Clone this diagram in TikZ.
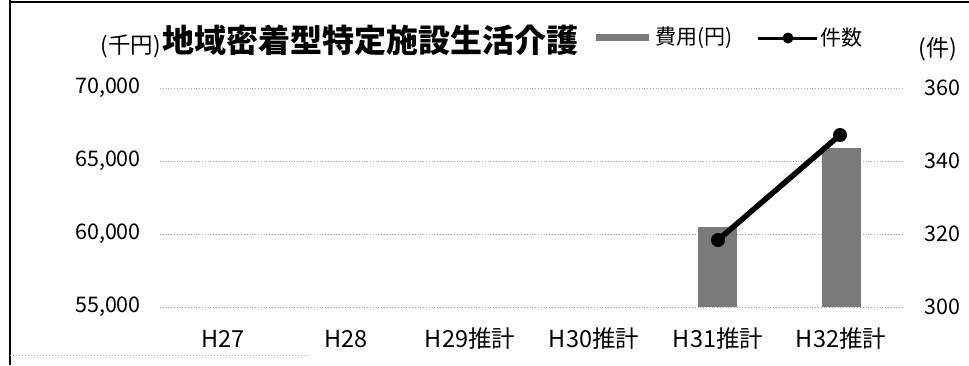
\documentclass[tikz,border=0pt]{standalone}
\usepackage{fontspec}
\setmainfont{Noto Sans CJK JP}
\begin{document}
\begin{tikzpicture}[x=1pt,y=-1pt,
  grid/.style={gray!70, dotted, line width=0.8pt},
  num/.style={font=\fontsize{21.5}{23}\selectfont, inner sep=0pt},
  cat/.style={font=\fontsize{23.5}{25}\selectfont, inner sep=0pt},
  lg/.style={font=\fontsize{21}{23}\selectfont, inner sep=0pt},
  bar/.style={fill=black!52, draw=none, inner sep=0pt},
  mk/.style={circle, fill=black, inner sep=0pt, minimum size=14pt},
  ]
\useasboundingbox (0,0) rectangle (969,365);
% frame
\draw[line width=2pt] (10,0) -- (10,365);
\draw[line width=1.8pt] (10,2) -- (969,2);
\draw[gray!60, dotted, line width=1pt] (10,355) -- (310,355);
% grid
\foreach \y in {88,161,234,307} \draw[grid] (160,\y) -- (903,\y);
% left axis
\node[num, anchor=east] (l70) at (141,88) {70,000};
\node[num, anchor=east] (l65) at (141,161) {65,000};
\node[num, anchor=east] (l60) at (141,234) {60,000};
\node[num, anchor=east] (l55) at (141,307) {55,000};
% right axis
\node[num, anchor=west] (r360) at (924,88) {360};
\node[num, anchor=west] (r340) at (924,161) {340};
\node[num, anchor=west] (r320) at (924,234) {320};
\node[num, anchor=west] (r300) at (924,307) {300};
% categories
\node[cat] (c27) at (223,339) {H27};
\node[cat] (c28) at (346,339) {H28};
\node[cat] (c29) at (470,339) {H29推計};
\node[cat] (c30) at (594,339) {H30推計};
\node[cat] (c31) at (718,339) {H31推計};
\node[cat] (c32) at (841,339) {H32推計};
% bars
\node[bar, anchor=south, minimum width=39pt, minimum height=80pt] (b31) at (717.5,307) {};
\node[bar, anchor=south, minimum width=39pt, minimum height=159pt] (b32) at (841,307) {};
% line
\node[mk] (m31) at (718,240) {};
\node[mk] (m32) at (840,135) {};
\draw[line width=5.5pt] (m31.center) -- (m32.center);
% title and units
\node[anchor=west, font=\bfseries\fontsize{32}{34}\selectfont, inner sep=0pt] (title) at (162,40) {地域密着型特定施設生活介護};
\node[anchor=east, font=\fontsize{22.5}{24}\selectfont, inner sep=0pt] (unitL) at (161,46) {(千円)};
\node[font=\fontsize{23}{25}\selectfont, inner sep=0pt] (unitR) at (938,49) {(件)};
% legend
\node[bar, minimum width=53pt, minimum height=7pt] (lgbar) at (622,37) {};
\node[lg, anchor=west] (lgcost) at (655,38) {費用(円)};
\coordinate (lgA) at (758,38);
\coordinate (lgB) at (817,38);
\draw[line width=3pt] (lgA) -- (lgB);
\node[mk, minimum size=11pt] (lgm) at (788,38) {};
\node[lg, anchor=west] (lgcnt) at (820,38) {件数};
\end{tikzpicture}
\end{document}
